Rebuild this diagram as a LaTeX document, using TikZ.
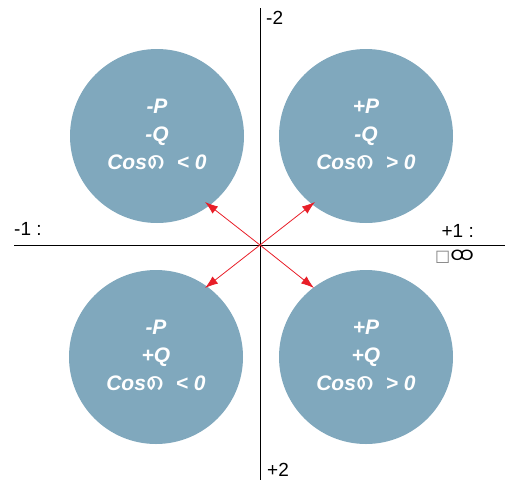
\documentclass[tikz,border=0pt]{standalone}
\usepackage{fontspec}
\setmainfont{Liberation Sans}
\newfontfamily\mmfont[Script=Myanmar]{Noto Sans Myanmar UI}
\newfontfamily\symfont{DejaVu Sans}
\usetikzlibrary{arrows.meta}
\definecolor{quadblue}{RGB}{128,168,189}
\definecolor{arrowred}{RGB}{232,30,40}
\tikzset{
  quadrant/.style={circle, fill=quadblue, minimum size=174pt, inner sep=0pt,
    text=white, align=center, font=\bfseries\itshape\fontsize{21}{28}\selectfont},
  axislabel/.style={font=\fontsize{19}{21}\selectfont, inner sep=0pt},
  vector/.style={arrowred, thick, -{Latex[length=13pt,width=9pt]}}
}
\newcommand{\phisym}{\raisebox{-4pt}{\mmfont\mdseries\upshape\fontsize{28}{28}\selectfont ၈}}
\begin{document}
\begin{tikzpicture}[x=1pt,y=-1pt]
    \useasboundingbox (0,0) rectangle (509,483);

    % Four quadrant circles
    \node[quadrant] (pq1) at (157,136) {-P\\-Q\\Cos\phisym\ \ < 0};
    \node[quadrant] (pq2) at (366,136) {+P\\-Q\\Cos\phisym\ \ > 0};
    \node[quadrant] (pq3) at (156,357) {-P\\+Q\\Cos\phisym\ \ < 0};
    \node[quadrant] (pq4) at (366,357) {+P\\+Q\\Cos\phisym\ \ > 0};

    % Axes
    \coordinate (O) at (260,245);
    \coordinate (xl) at (14,245);
    \coordinate (xr) at (505,245);
    \coordinate (yt) at (260,8);
    \coordinate (yb) at (260,480);
    \draw[thick] (xl) -- (xr);
    \draw[thick] (yt) -- (yb);

    % Vectors from origin
    \coordinate (t1) at (205,202);
    \coordinate (t2) at (315,202);
    \coordinate (t3) at (205,288);
    \coordinate (t4) at (314,288);
    \foreach \t in {t1,t2,t3,t4}
        \draw[vector] (O) -- (\t);

    % Axis labels
    \node[axislabel, anchor=west] (ym) at (266,18) {-2};
    \node[axislabel, anchor=west] (yp) at (267,470) {+2};
    \node[axislabel, anchor=west] (xm) at (14,229) {-1 :};
    \node[axislabel, anchor=east] (xp) at (474,231) {+1 :};
    \node[axislabel, anchor=west] (xu) at (435,257) {{\symfont\color{gray}\fontsize{16}{16}\selectfont □}\raisebox{-2pt}{\mmfont\fontsize{21}{21}\selectfont ထ}};
\end{tikzpicture}
\end{document}
